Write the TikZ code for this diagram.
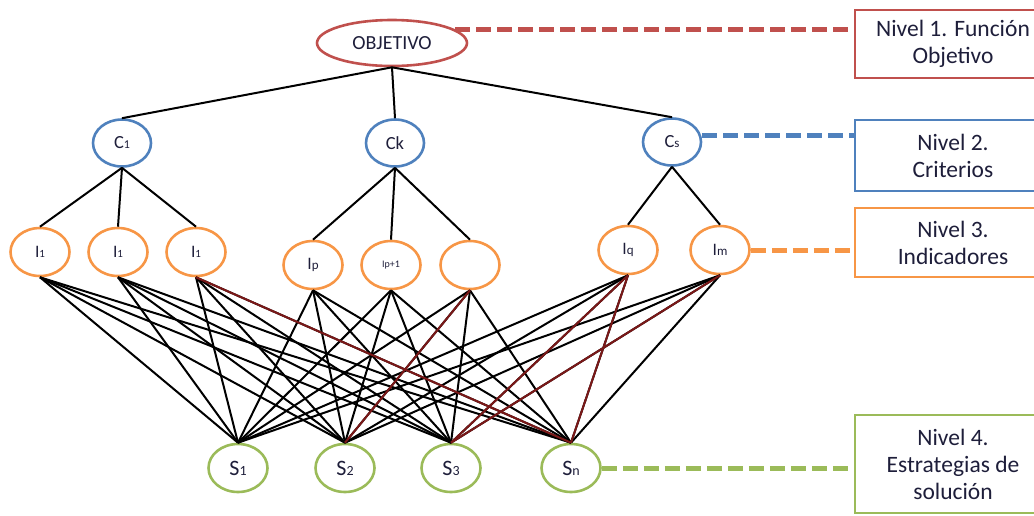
\documentclass[tikz,border=0pt]{standalone}
\usepackage{fontspec}
\setmainfont{Carlito}
\usetikzlibrary{shapes.geometric}
\definecolor{cred}{HTML}{C0504D}
\definecolor{cblue}{HTML}{4F81BD}
\definecolor{corange}{HTML}{F79646}
\definecolor{cgreen}{HTML}{9BBB59}
\definecolor{txt}{HTML}{1E1E3A}
\definecolor{dred}{HTML}{7A1818}
\newcommand\lsub[2][11]{{\fontsize{#1}{#1}\selectfont #2}}
\tikzset{
  base/.style={ellipse, line width=2.6pt, inner sep=0pt, text=txt},
  objn/.style={base, draw=cred, minimum width=150pt, minimum height=46pt, font=\fontsize{20}{20}\selectfont},
  critn/.style={base, draw=cblue, minimum width=58pt, minimum height=47pt, font=\fontsize{18.5}{18.5}\selectfont},
  indn/.style={base, draw=corange, minimum width=59pt, minimum height=48pt, font=\fontsize{17.5}{17.5}\selectfont},
  soln/.style={base, draw=cgreen, minimum width=59pt, minimum height=48pt, font=\fontsize{22}{22}\selectfont},
  edge/.style={line width=2pt, black},
  redge/.style={line width=2pt, dred},
  lvl/.style={draw, line width=2.6pt, rectangle, text=txt, align=center, inner sep=0pt,
     font=\fontsize{23.5}{27}\selectfont},
  dsh/.style={line width=5pt, dash pattern=on 15pt off 6pt},
}
\begin{document}
\begin{tikzpicture}[x=1pt,y=-1pt]
\useasboundingbox (0,0) rectangle (1034,515);
\clip (0,0) rectangle (1034,515);
% level 1
\node[objn] (obj) at (392,43) {OBJETIVO};
% level 2
\node[critn] (c1) at (122,143) {C\lsub[12]{1}};
\node[critn] (ck) at (395,143) {Ck};
\node[critn] (cs) at (672,142) {C\lsub[13]{s}};
% level 3
\node[indn] (i1) at (40,252) {I\lsub{1}};
\node[indn] (i2) at (118,252) {I\lsub{1}};
\node[indn] (i3) at (196,252) {I\lsub{1}};
\node[indn] (i4) at (313,265) {I\lsub[13]{p}};
\node[indn] (i5) at (391,265) {\lsub[10]{Ip+1}};
\node[indn] (i6) at (470,265) {};
\node[indn] (i7) at (628,250) {I\lsub[13]{q}};
\node[indn] (i8) at (720,250) {I\lsub[13]{m}};
% level 4
\node[soln] (s1) at (238,468) {S\lsub[14]{1}};
\node[soln] (s2) at (345,468) {S\lsub[14]{2}};
\node[soln] (s3) at (451,468) {S\lsub[14]{3}};
\node[soln] (s4) at (571,468) {S\lsub[14]{n}};
% level boxes
\node[lvl, draw=cred, minimum width=196pt, minimum height=68pt] (b1) at (953,44) {Nivel 1. Función\\Objetivo};
\node[lvl, draw=cblue, minimum width=196pt, minimum height=71pt] (b2) at (953,155.5) {Nivel 2.\\Criterios};
\node[lvl, draw=corange, minimum width=196pt, minimum height=69pt] (b3) at (953,242.5) {Nivel 3.\\Indicadores};
\node[lvl, draw=cgreen, minimum width=196pt, minimum height=98pt] (b4) at (953,464) {Nivel 4.\\Estrategias de\\solución};
% tree edges
\foreach \c in {c1,ck,cs} \draw[edge] (obj.south) -- (\c.north);
\foreach \i in {i1,i2,i3} \draw[edge] (c1.south) -- (\i.north);
\foreach \i in {i4,i5,i6} \draw[edge] (ck.south) -- (\i.north);
\foreach \i in {i7,i8} \draw[edge] (cs.south) -- (\i.north);
\foreach \i in {i1,i2,i3,i4,i5,i6,i7,i8}
  \foreach \s in {s1,s2,s3,s4}
    \draw[edge] (\i.south) -- (\s.north);
% highlighted edges
\draw[redge] (i3.south) -- (s4.north);
\draw[redge] (i6.south) -- (s2.north);
\draw[redge] (i7.south) -- (s3.north);
\draw[redge] (i7.south) -- (s4.north);
\draw[redge] (i8.south) -- (s3.north);
% dashed level connectors
\draw[dsh, cred] (obj.12) -- (obj.12 -| b1.west);
\draw[dsh, cblue] (cs.east) ++(0,-7) coordinate (d2) -- (d2 -| b2.west);
\draw[dsh, corange] (i8.east) -- (i8.east -| b3.west);
\draw[dsh, cgreen] (s4.east) -- (s4.east -| b4.west);
\end{tikzpicture}
\end{document}
